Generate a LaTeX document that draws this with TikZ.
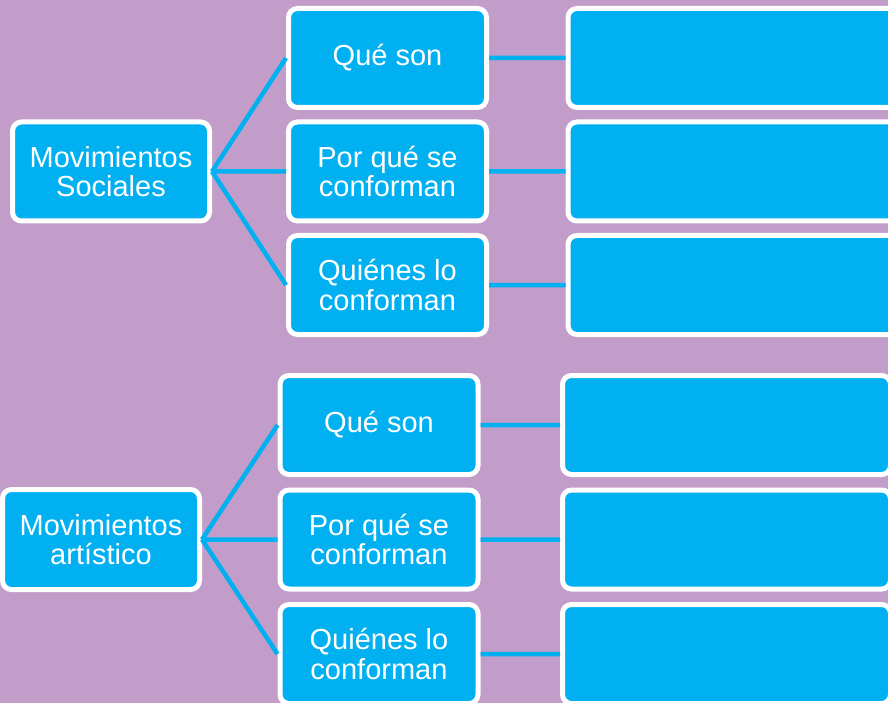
\documentclass[tikz,border=0pt]{standalone}
\usepackage{fontspec}
\setmainfont{Liberation Sans}
\usepackage{tikz}
\usepackage{xcolor}
\usetikzlibrary{positioning}
\definecolor{fondo}{RGB}{194,157,202}
\definecolor{celeste}{RGB}{0,176,240}
\tikzset{
    caja/.style={draw=white, fill=celeste, line width=5pt, rounded corners=9pt, minimum width=198pt, minimum height=99pt, align=center, text=white, font=\fontsize{29}{29.5}\selectfont, inner sep=0pt},
    vacia/.style={caja, minimum width=335pt, anchor=west},
    enlace/.style={draw=celeste, line width=4.5pt}
}
\begin{document}
\begin{tikzpicture}[x=1pt, y=-1pt]
                        \useasboundingbox (0, 0) rectangle (888, 703);
                        \clip (0, 0) rectangle (888, 703);
                        \fill[fondo] (0, 0) rectangle (888, 703);

                        \node[caja, minimum width=197pt] (ms) at (111, 171.5) {Movimientos\\Sociales};
                        \node[caja] (ms1) at (387.5, 58) {Qué son};
                        \node[caja] (ms2) at (387.5, 171.5) {Por qué se\\conforman};
                        \node[caja] (ms3) at (387.5, 285) {Quiénes lo\\conforman};
                        \node[vacia] (rs1) at (565.5, 58) {};
                        \node[vacia] (rs2) at (565.5, 171.5) {};
                        \node[vacia] (rs3) at (565.5, 285) {};

                        \node[caja, minimum width=197pt, minimum height=100pt] (ma) at (101, 539.5) {Movimientos\\artístico};
                        \node[caja] (ma1) at (379, 425) {Qué son};
                        \node[caja] (ma2) at (379, 539.5) {Por qué se\\conforman};
                        \node[caja] (ma3) at (379, 654) {Quiénes lo\\conforman};
                        \node[vacia, minimum width=328pt] (ra1) at (560, 425) {};
                        \node[vacia, minimum width=328pt] (ra2) at (560, 539.5) {};
                        \node[vacia, minimum width=328pt] (ra3) at (560, 654) {};

                        \draw[enlace]
                        (ms.east) -- (ms1.west)
                        (ms.east) -- (ms2.west)
                        (ms.east) -- (ms3.west)
                        (ms1.east) -- (rs1.west)
                        (ms2.east) -- (rs2.west)
                        (ms3.east) -- (rs3.west)
                        (ma.east) -- (ma1.west)
                        (ma.east) -- (ma2.west)
                        (ma.east) -- (ma3.west)
                        (ma1.east) -- (ra1.west)
                        (ma2.east) -- (ra2.west)
                        (ma3.east) -- (ra3.west);
                    \end{tikzpicture}
\end{document}
